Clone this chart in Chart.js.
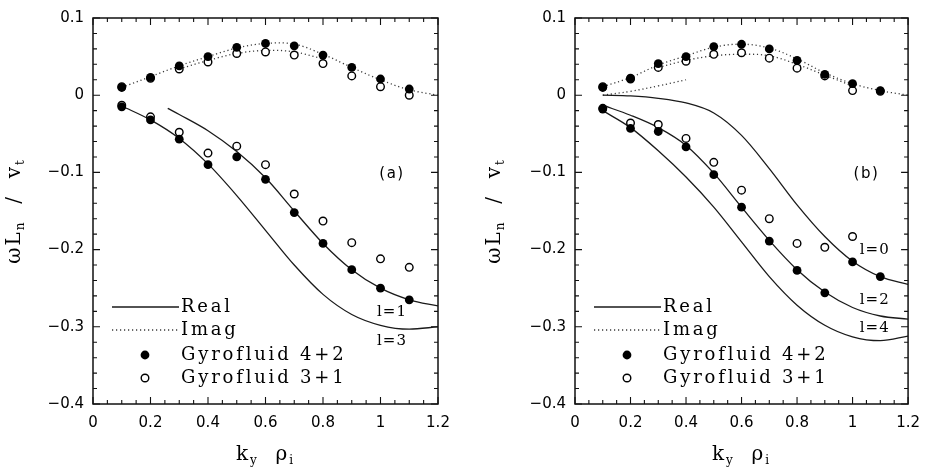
<!DOCTYPE html>
<html>
<head>
<meta charset="utf-8">
<title>Gyrofluid vs exact dispersion</title>
<script src="https://cdn.jsdelivr.net/npm/chart.js@4.4.0/dist/chart.umd.min.js"></script>
<style>
    body { margin: 0; background: #fff; }
    .wrap { display: flex; width: 930px; height: 472px; }
    .panel { width: 465px; height: 472px; }
</style>
</head>
<body>
<div class="wrap">
    <div class="panel"><canvas id="chartA" width="465" height="472"></canvas></div>
    <div class="panel"><canvas id="chartB" width="465" height="472"></canvas></div>
</div>
<script>
// k_y rho_i sample points
const kyPoints = [0.1, 0.2, 0.3, 0.4, 0.5, 0.6, 0.7, 0.8, 0.9, 1.0, 1.1];
const kyCurve = [0.1, 0.2, 0.3, 0.4, 0.5, 0.6, 0.7, 0.8, 0.9, 1.0, 1.1, 1.2];
const kyCurveL1 = [0.26, 0.3, 0.4, 0.5, 0.6, 0.7, 0.8, 0.9, 1.0, 1.1, 1.2];
const kyImagA2 = [0.3, 0.4, 0.5, 0.6, 0.7, 0.8];
const kyImagB2 = [0.3, 0.4, 0.5, 0.6, 0.7, 0.8, 0.9, 1.0];
const kyImagB3 = [0.1, 0.2, 0.3, 0.4];

// panel (a)
const aGf42Imag = [0.010, 0.023, 0.038, 0.050, 0.062, 0.067, 0.064, 0.052, 0.036, 0.021, 0.008];
const aGf42Real = [-0.015, -0.032, -0.057, -0.090, -0.080, -0.109, -0.152, -0.192, -0.226, -0.250, -0.265];
const aGf31Imag = [0.011, 0.022, 0.034, 0.043, 0.054, 0.056, 0.052, 0.041, 0.025, 0.011, 0.000];
const aGf31Real = [-0.013, -0.028, -0.048, -0.075, -0.066, -0.090, -0.128, -0.163, -0.191, -0.212, -0.223];
const aRealL1 = [-0.017, -0.025, -0.046, -0.073, -0.107, -0.150, -0.192, -0.226, -0.250, -0.265, -0.273];
const aRealL3 = [-0.014, -0.032, -0.056, -0.089, -0.130, -0.175, -0.220, -0.258, -0.284, -0.298, -0.303, -0.300];
const aImag1 = [0.010, 0.024, 0.038, 0.050, 0.061, 0.067, 0.066, 0.053, 0.036, 0.020, 0.007, 0.000];
const aImag2 = [0.034, 0.045, 0.054, 0.058, 0.056, 0.047];

// panel (b)
const bGf42Imag = [0.010, 0.022, 0.041, 0.050, 0.063, 0.066, 0.060, 0.045, 0.027, 0.015, 0.006];
const bGf42Real = [-0.018, -0.043, -0.047, -0.067, -0.103, -0.145, -0.189, -0.227, -0.256, -0.216, -0.235];
const bGf31Imag = [0.011, 0.021, 0.036, 0.044, 0.053, 0.055, 0.048, 0.035, 0.025, 0.006, 0.005];
const bGf31Real = [-0.017, -0.036, -0.038, -0.056, -0.087, -0.123, -0.160, -0.192, -0.197, -0.183, null];
const bRealL0 = [0.000, -0.001, -0.004, -0.010, -0.023, -0.052, -0.095, -0.142, -0.183, -0.215, -0.235, -0.245];
const bRealL2 = [-0.013, -0.026, -0.042, -0.065, -0.101, -0.145, -0.188, -0.226, -0.255, -0.275, -0.286, -0.290];
const bRealL4 = [-0.020, -0.042, -0.072, -0.106, -0.145, -0.190, -0.235, -0.272, -0.298, -0.313, -0.318, -0.312];
const bImag1 = [0.011, 0.023, 0.039, 0.051, 0.062, 0.066, 0.061, 0.047, 0.029, 0.015, 0.006, 0.000];
const bImag2 = [0.036, 0.045, 0.051, 0.053, 0.051, 0.040, 0.026, 0.012];
const bImag3 = [0.000, 0.005, 0.012, 0.020];

const xTicks = [0, 0.2, 0.4, 0.6, 0.8, 1, 1.2];
const yTicks = [0.1, 0, -0.1, -0.2, -0.3, -0.4];
const legendOrder = ['Real', 'Imag', 'Gyrofluid 4+2', 'Gyrofluid 3+1'];

const pts = (xs, ys) => xs.map((x, i) => ({ x: x, y: ys[i] }));

function realLine(xs, ys) {
    return { label: 'Real', data: pts(xs, ys), showLine: true, pointRadius: 0,
             borderColor: '#1a1a1a', borderWidth: 1.3, cubicInterpolationMode: 'monotone', order: 3 };
}
function imagLine(xs, ys) {
    return { label: 'Imag', data: pts(xs, ys), showLine: true, pointRadius: 0,
             borderColor: '#3a3a3a', borderWidth: 1.3, borderDash: [1.2, 2.8], tension: 0.4, order: 3 };
}
function filled(xs, ys) {
    return { label: 'Gyrofluid 4+2', data: pts(xs, ys), showLine: false, pointRadius: 4.4,
             backgroundColor: '#000', borderColor: '#000', borderWidth: 0, order: 0 };
}
function open(xs, ys) {
    return { label: 'Gyrofluid 3+1', data: pts(xs, ys), showLine: false, pointRadius: 3.8,
             backgroundColor: '#fff', borderColor: '#000', borderWidth: 1.4, order: 1 };
}

function fmtX(v) { return String(Math.round(v * 10) / 10); }
function fmtY(v) {
    const r = Math.round(v * 10) / 10;
    if (r === 0) return '0';
    return (r < 0 ? '\u2212' : '') + Math.abs(r).toFixed(1);
}

// draws text with subscripts: parts = [[text, isSub], ...]
function drawRich(ctx, parts, cx, cy) {
    const main = '20px "DejaVu Serif"', sub = '12px "DejaVu Serif"';
    let w = 0;
    parts.forEach(p => { ctx.font = p[1] ? sub : main; w += ctx.measureText(p[0]).width; });
    let x = cx - w / 2;
    ctx.textAlign = 'left';
    ctx.textBaseline = 'alphabetic';
    parts.forEach(p => {
        ctx.font = p[1] ? sub : main;
        ctx.fillText(p[0], x, cy + (p[1] ? 10 : 6));
        x += ctx.measureText(p[0]).width;
    });
}

const paperPlugin = {
    id: 'paper',
    afterDraw(chart, args, opts) {
        const { ctx, chartArea: a } = chart;
        const x = chart.scales.x, y = chart.scales.y;
        ctx.save();
        ctx.fillStyle = '#000';
        ctx.strokeStyle = '#111';

        // frame
        ctx.lineWidth = 1.5;
        ctx.strokeRect(a.left, a.top, a.right - a.left, a.bottom - a.top);

        // inward ticks on all four sides
        ctx.lineWidth = 1.1;
        ctx.beginPath();
        for (let i = 0; i <= 24; i++) {
            const px = x.getPixelForValue(i * 0.05);
            const len = i % 4 === 0 ? 7 : 4;
            ctx.moveTo(px, a.bottom); ctx.lineTo(px, a.bottom - len);
            ctx.moveTo(px, a.top); ctx.lineTo(px, a.top + len);
        }
        for (let i = 0; i <= 25; i++) {
            const py = y.getPixelForValue(-0.4 + i * 0.02);
            const len = i % 5 === 0 ? 7 : 4;
            ctx.moveTo(a.left, py); ctx.lineTo(a.left + len, py);
            ctx.moveTo(a.right, py); ctx.lineTo(a.right - len, py);
        }
        ctx.stroke();

        // legend, lower left inside the frame
        const rows = [97, 74, 49, 26];
        ctx.font = '18px "DejaVu Serif"';
        ctx.letterSpacing = '2.8px';
        ctx.textBaseline = 'middle';
        ctx.textAlign = 'left';
        legendOrder.forEach((name, i) => {
            const ds = chart.data.datasets.find(d => d.label === name);
            const ry = a.bottom - rows[i];
            if (ds.showLine) {
                ctx.save();
                ctx.strokeStyle = ds.borderColor;
                ctx.lineWidth = ds.borderWidth;
                ctx.setLineDash(ds.borderDash || []);
                ctx.beginPath();
                ctx.moveTo(a.left + 19, ry); ctx.lineTo(a.left + 86, ry);
                ctx.stroke();
                ctx.restore();
            } else {
                ctx.save();
                ctx.beginPath();
                ctx.arc(a.left + 52, ry, ds.pointRadius, 0, Math.PI * 2);
                ctx.fillStyle = ds.backgroundColor;
                ctx.fill();
                if (ds.borderWidth) {
                    ctx.lineWidth = ds.borderWidth;
                    ctx.strokeStyle = ds.borderColor;
                    ctx.stroke();
                }
                ctx.restore();
            }
            ctx.fillText(name, a.left + 88, ry);
        });
        ctx.letterSpacing = '0px';

        // panel tag and mode labels
        ctx.textAlign = 'center';
        ctx.font = '15px "DejaVu Sans"';
        ctx.letterSpacing = '1.5px';
        ctx.fillText(opts.tag.text, x.getPixelForValue(opts.tag.x), y.getPixelForValue(opts.tag.y));
        ctx.font = '15px "DejaVu Serif"';
        ctx.letterSpacing = '1px';
        opts.notes.forEach(n => {
            ctx.fillText(n.text, x.getPixelForValue(n.x), y.getPixelForValue(n.y));
        });
        ctx.letterSpacing = '2px';

        // axis titles
        drawRich(ctx, [['k', false], ['y', true], ['  \u03c1', false], ['i', true]],
                 (a.left + a.right) / 2, 454);
        ctx.save();
        ctx.translate(opts.yTitleX, (a.top + a.bottom) / 2);
        ctx.rotate(-Math.PI / 2);
        drawRich(ctx, [['\u03c9L', false], ['n', true], ['  /  v', false], ['t', true]], 0, -6);
        ctx.restore();

        ctx.restore();
    }
};

function makeChart(id, datasets, layout, extra) {
    const ctx = document.getElementById(id).getContext('2d');
    return new Chart(ctx, {
        type: 'scatter',
        data: { datasets: datasets },
        options: {
            responsive: false,
            animation: false,
            devicePixelRatio: 1,
            layout: { padding: { top: layout.top, right: layout.right, left: 0, bottom: 0 } },
            plugins: { legend: { display: false }, tooltip: { enabled: false }, paper: extra },
            scales: {
                x: {
                    type: 'linear', min: 0, max: 1.2,
                    afterBuildTicks: s => { s.ticks = xTicks.map(v => ({ value: v })); },
                    afterFit: s => { s.height = 68; },
                    grid: { display: false, drawTicks: false },
                    border: { display: false },
                    ticks: { callback: fmtX, padding: 10, color: '#000', maxRotation: 0,
                             font: { family: 'DejaVu Sans', size: 15 } }
                },
                y: {
                    type: 'linear', min: -0.4, max: 0.1,
                    afterBuildTicks: s => { s.ticks = yTicks.map(v => ({ value: v })); },
                    afterFit: s => { s.width = layout.yWidth; },
                    grid: { display: false, drawTicks: false },
                    border: { display: false },
                    ticks: { callback: fmtY, padding: 9, color: '#000',
                             font: { family: 'DejaVu Sans', size: 15 } }
                }
            }
        },
        plugins: [paperPlugin]
    });
}

makeChart('chartA', [
    realLine(kyCurve, aRealL3),
    imagLine(kyCurve, aImag1),
    filled(kyPoints, aGf42Imag),
    open(kyPoints, aGf31Imag),
    realLine(kyCurveL1, aRealL1),
    imagLine(kyImagA2, aImag2),
    filled(kyPoints, aGf42Real),
    open(kyPoints, aGf31Real)
], { top: 16, right: 27, yWidth: 93 }, {
    tag: { text: '(a)', x: 1.04, y: -0.102 },
    notes: [{ text: 'l=1', x: 1.04, y: -0.281 }, { text: 'l=3', x: 1.04, y: -0.318 }],
    yTitleX: 20
});

makeChart('chartB', [
    realLine(kyCurve, bRealL0),
    imagLine(kyCurve, bImag1),
    filled(kyPoints, bGf42Imag),
    open(kyPoints, bGf31Imag),
    realLine(kyCurve, bRealL2),
    realLine(kyCurve, bRealL4),
    imagLine(kyImagB2, bImag2),
    imagLine(kyImagB3, bImag3),
    filled(kyPoints, bGf42Real),
    open(kyPoints, bGf31Real)
], { top: 17, right: 13, yWidth: 110 }, {
    tag: { text: '(b)', x: 1.05, y: -0.102 },
    notes: [{ text: 'l=0', x: 1.08, y: -0.201 }, { text: 'l=2', x: 1.08, y: -0.266 },
            { text: 'l=4', x: 1.08, y: -0.302 }],
    yTitleX: 35
});
</script>
</body>
</html>
